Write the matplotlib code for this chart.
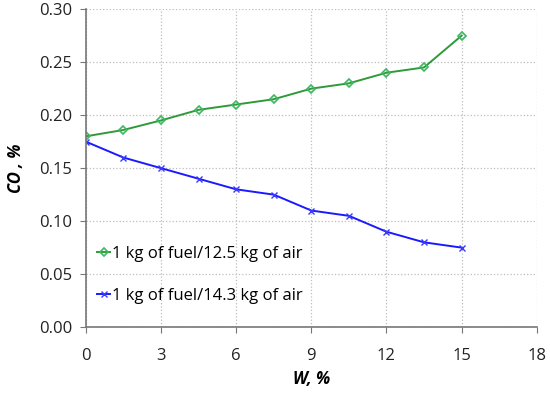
import matplotlib
matplotlib.use("Agg")
import matplotlib.pyplot as plt

plt.rcParams['font.family'] = ['Open Sans', 'DejaVu Sans']

# moisture content W, %
w = [0, 1.5, 3, 4.5, 6, 7.5, 9, 10.5, 12, 13.5, 15]
# CO, % for the two air/fuel ratios
co_125 = [0.180, 0.186, 0.195, 0.205, 0.210, 0.215, 0.225, 0.230, 0.240, 0.245, 0.275]
co_143 = [0.175, 0.160, 0.150, 0.140, 0.130, 0.125, 0.110, 0.105, 0.090, 0.080, 0.075]

label_125 = "1 kg of fuel/12.5 kg of air"
label_143 = "1 kg of fuel/14.3 kg of air"

xticks = [0, 3, 6, 9, 12, 15, 18]
yticks = [0.00, 0.05, 0.10, 0.15, 0.20, 0.25, 0.30]

fig = plt.figure(figsize=(5.5, 3.97), dpi=100)
ax = fig.add_axes([0.156, 0.176, 0.82, 0.801])

ax.plot(w, co_125, color='#2e9a3a', lw=1.4, marker='D', ms=4.5,
        mfc='none', mec='#3cb860', mew=1.2, label=label_125)
ax.plot(w, co_143, color='#1a1aff', lw=1.4, marker='x', ms=5,
        mec='#3a3aff', mew=1.0, label=label_143)

ax.set_xlim(0, 18)
ax.set_ylim(0, 0.30)
ax.set_xticks(xticks)
ax.set_yticks(yticks)
ax.set_yticklabels(["%.2f" % v for v in yticks])
ax.tick_params(labelsize=12, colors='#222222', length=4, color='#777777')
ax.tick_params(axis='x', pad=11)
ax.tick_params(axis='y', pad=6)
ax.grid(True, ls=':', color='#bdbdbd', lw=0.9)
ax.set_axisbelow(True)
for s in ['top', 'right']:
    ax.spines[s].set_visible(False)
for s in ['left', 'bottom']:
    ax.spines[s].set_color('#777777')
    ax.spines[s].set_linewidth(1.2)

ax.set_xlabel("W, %", fontsize=12, fontweight='bold', style='italic', labelpad=4)
ax.set_ylabel("CO , %", fontsize=12, fontweight='bold', style='italic', labelpad=10)

ax.legend(loc='lower left', bbox_to_anchor=(0.0, 0.035), frameon=False,
          fontsize=12, handlelength=0.75, handletextpad=0.1,
          labelspacing=1.6, borderaxespad=0.3)

fig.savefig("out.png", dpi=100)
